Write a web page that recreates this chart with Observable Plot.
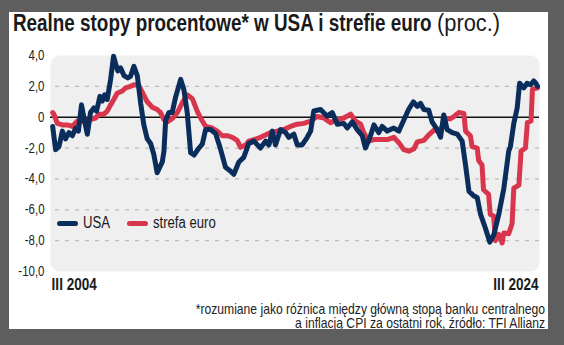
<!DOCTYPE html>
<html><head><meta charset="utf-8">
<script src="https://cdn.jsdelivr.net/npm/d3@7"></script>
<script src="https://cdn.jsdelivr.net/npm/@observablehq/plot@0.6"></script>
<style>
html,body{margin:0;padding:0;}
body{width:564px;height:345px;background:#5e5e5e;position:relative;overflow:hidden;
  font-family:"Liberation Sans",Arial,sans-serif;color:#1a1a1a;}
#card{position:absolute;left:9px;top:12px;width:539px;height:317px;background:#fff;overflow:hidden;}
#title{position:absolute;left:4px;top:0;font-size:23px;line-height:22px;white-space:nowrap;}
#title .main{display:inline-block;font-weight:bold;transform:scaleX(0.82);transform-origin:0 0;}
#title .unit{position:absolute;top:0;font-weight:normal;display:inline-block;transform:scaleX(0.95);transform-origin:0 0;}
#chart{position:absolute;left:0;top:32px;}
.leg{position:absolute;top:201px;font-size:16px;line-height:20px;white-space:nowrap;}
.leg .sw{position:absolute;left:0;top:8px;width:21px;height:5px;border-radius:3px;}
.leg .tx{position:absolute;left:26px;top:0;display:inline-block;transform:scaleX(0.82);transform-origin:0 0;}
#caption{position:absolute;right:3px;top:291px;font-size:14.8px;line-height:13.5px;text-align:right;white-space:nowrap;color:#222;
  transform:scaleX(0.82);transform-origin:100% 0;}
</style></head>
<body>
<div id="card">
  <div id="title"></div>
  <div id="chart"></div>
  <div id="legend"></div>
  <div id="caption"></div>
</div>
<script>
const titleMain = "Realne stopy procentowe* w USA i strefie euro";
const titleUnit = "(proc.)";
const captionLines = ["*rozumiane jako różnica między główną stopą banku centralnego",
                      "a inflacją CPI za ostatni rok, źródło: TFI Allianz"];
const seriesNames = ["USA", "strefa euro"];
const seriesColors = ["#0b2d5b", "#d8364c"];
const yTicks = [4, 2, 0, -2, -4, -6, -8, -10];
const gridValues = [2, -2, -4, -6, -8];
const xLabelText = ["III 2004", "III 2024"];
const xLabelPos = [2004.167, 2024.167];

const usaYears = [2004.17,2004.29,2004.43,2004.57,2004.70,2004.84,2004.98,2005.12,2005.23,2005.36,2005.49,2005.60,2005.73,2005.87,2005.98,
2006.12,2006.22,2006.31,2006.42,2006.56,2006.68,2006.76,2006.86,2006.97,2007.11,2007.27,2007.38,2007.52,2007.66,2007.80,2007.93,
2008.07,2008.21,2008.34,2008.48,2008.69,2008.76,2008.83,2008.96,2009.10,2009.24,2009.45,2009.58,2009.72,2009.86,2010.00,2010.20,
2010.34,2010.48,2010.68,2010.89,2011.09,2011.30,2011.51,2011.64,2011.85,2012.05,2012.26,2012.47,2012.74,2012.95,2013.09,2013.23,
2013.36,2013.57,2013.78,2013.91,2014.12,2014.26,2014.46,2014.67,2014.81,2014.94,2015.22,2015.49,2015.70,2015.91,2016.18,2016.32,
2016.53,2016.73,2016.94,2017.07,2017.28,2017.42,2017.62,2017.76,2017.97,2018.24,2018.45,2018.65,2018.85,2019.05,2019.21,2019.34,
2019.48,2019.68,2019.82,2020.03,2020.17,2020.30,2020.44,2020.65,2020.86,2021.06,2021.20,2021.34,2021.54,2021.68,2021.82,2022.02,
2022.20,2022.37,2022.57,2022.78,2022.98,2023.05,2023.19,2023.33,2023.43,2023.60,2023.74,2023.88,2024.01,2024.10,2024.17];
const usaValues = [-0.6,-2.1,-1.9,-0.9,-1.4,-1.0,-1.2,-0.7,-0.9,0.8,-0.3,-1.1,0.3,0.6,0.4,
1.35,1.05,1.45,1.15,2.45,3.95,3.5,3.0,3.2,2.7,2.55,2.65,3.3,2.7,0.9,-0.5,
-1.4,-1.7,-2.4,-3.6,-2.9,-2.2,-0.2,0.3,0.3,1.3,2.45,1.8,0.3,-2.3,-2.45,-2.0,
-1.75,-0.8,-0.8,-1.05,-2.05,-3.25,-3.5,-3.7,-2.9,-2.6,-1.7,-1.55,-2.0,-1.55,-1.8,-0.9,
-1.8,-0.8,-1.0,-1.3,-1.1,-1.8,-1.8,-1.3,-0.9,0.4,0.5,0.07,0.3,-0.45,-0.4,-0.7,
-0.3,-0.8,-1.2,-2.0,-1.2,-0.5,-1.0,-0.6,-0.9,-0.7,-0.9,-0.2,0.5,1.0,0.7,0.9,
0.5,0.45,-0.3,-0.8,-1.3,0.15,-0.8,-1.0,-1.1,-1.55,-3.1,-4.8,-5.1,-5.2,-6.3,-7.2,
-8.1,-7.6,-6.3,-4.6,-2.2,-1.9,-0.4,0.6,2.2,1.9,2.2,2.1,2.35,2.2,2.0];

const euroYears = [2004.17,2004.22,2004.36,2004.57,2004.77,2004.98,2005.19,2005.46,2005.73,2005.94,2006.08,2006.28,2006.42,2006.56,
2006.69,2006.83,2007.04,2007.18,2007.38,2007.52,2007.73,2007.87,2008.07,2008.28,2008.48,2008.62,2008.76,2008.90,2009.10,2009.31,
2009.52,2009.72,2009.93,2010.13,2010.27,2010.48,2010.75,2010.96,2011.17,2011.37,2011.58,2011.78,2011.92,2012.13,2012.26,2012.47,
2012.74,2013.16,2013.43,2013.70,2013.98,2014.26,2014.53,2014.81,2015.08,2015.36,2015.63,2015.91,2016.18,2016.46,2016.66,2016.87,
2017.00,2017.21,2017.42,2017.69,2017.97,2018.24,2018.45,2018.65,2018.86,2019.07,2019.21,2019.48,2019.68,2019.89,2020.10,2020.24,
2020.44,2020.58,2020.72,2020.92,2021.13,2021.20,2021.40,2021.47,2021.68,2021.74,2021.88,2021.94,2022.15,2022.22,2022.36,2022.43,
2022.57,2022.71,2022.78,2022.98,2023.12,2023.19,2023.40,2023.49,2023.67,2023.75,2023.90,2023.96,2024.17];
const euroValues = [0.3,0.2,-0.4,-0.5,-0.5,-0.6,-0.25,-0.25,-0.15,-0.05,0.2,0.2,0.4,0.8,
1.15,1.55,1.7,1.9,2.0,2.1,2.05,1.6,1.0,0.65,0.5,0.3,-0.15,-0.3,-0.1,0.3,
0.95,1.45,1.2,0.4,-0.05,-0.6,-0.7,-0.9,-1.2,-1.2,-1.3,-1.5,-1.95,-1.8,-1.55,-1.45,
-1.3,-1.0,-0.9,-0.8,-0.6,-0.45,-0.4,-0.25,0.05,-0.05,-0.35,-0.15,-0.05,0.2,-0.25,-0.45,
-1.0,-1.55,-1.45,-1.45,-1.45,-1.3,-1.65,-2.1,-2.2,-2.05,-1.6,-1.5,-1.15,-0.85,-0.9,-0.6,
-0.1,-0.1,0.05,0.3,0.25,-0.9,-1.2,-1.9,-2.0,-2.8,-3.1,-4.7,-5.0,-6.3,-6.4,-8.0,
-7.6,-8.15,-7.5,-7.55,-6.9,-4.6,-4.4,-2.2,-2.0,-0.35,-0.25,1.8,1.9];

const usa = usaYears.map((x, i) => ({x, y: usaValues[i]}));
const euro = euroYears.map((x, i) => ({x, y: euroValues[i]}));

const fmt = d => d === 0 ? "0" : d3.format(".1f")(d).replace(".", ",").replace("\u2212", "-");

// title
const titleEl = document.getElementById("title");
titleEl.innerHTML = `<span class="main">${titleMain}</span><span class="unit">${titleUnit}</span>`;
const mainW = titleEl.querySelector(".main").getBoundingClientRect().width;
titleEl.querySelector(".unit").style.left = (mainW + 5) + "px";

document.getElementById("caption").innerHTML = captionLines.join("<br>");
const legendLeft = [48, 118];
document.getElementById("legend").innerHTML = seriesNames.map((n, i) =>
  `<div class="leg" style="left:${legendLeft[i]}px"><span class="sw" style="background:${seriesColors[i]}"></span><span class="tx">${n}</span></div>`).join("");

const fontFam = '"Liberation Sans",Arial,sans-serif';

const chart = Plot.plot({
  width: 539,
  height: 250,
  marginLeft: 41,
  marginRight: 9,
  marginTop: 11,
  marginBottom: 23,
  style: {fontFamily: fontFam, background: "transparent", overflow: "visible"},
  x: {domain: [2004.08, 2024.25], axis: null},
  y: {domain: [-10, 4], axis: null},
  marks: [
    Plot.frame({fill: "#efefef", stroke: null, rx: 9}),
    Plot.ruleY(gridValues, {stroke: "#bcbcbc", strokeWidth: 1.2, strokeDasharray: "4,6", strokeDashoffset: -5}),
    Plot.ruleY([0], {stroke: "#111", strokeWidth: 1.6}),
    Plot.axisY(yTicks, {tickSize: 0, tickPadding: 6, tickFormat: fmt, fontSize: 14, fill: "#222", label: null}),
    Plot.line(euro, {x: "x", y: "y", stroke: seriesColors[1], strokeWidth: 5, strokeLinejoin: "round", strokeLinecap: "round"}),
    Plot.line(usa, {x: "x", y: "y", stroke: seriesColors[0], strokeWidth: 5, strokeLinejoin: "round", strokeLinecap: "round"}),
    Plot.text([xLabelText[0]], {x: xLabelPos[0], text: d => d, textAnchor: "start", frameAnchor: "bottom", lineAnchor: "top", dy: 7, dx: -1,
      fontSize: 16.5, fontWeight: "bold", fill: "#1a1a1a"}),
    Plot.text([xLabelText[1]], {x: xLabelPos[1], text: d => d, textAnchor: "end", frameAnchor: "bottom", lineAnchor: "top", dy: 7, dx: 1,
      fontSize: 16.5, fontWeight: "bold", fill: "#1a1a1a"})
  ]
});
document.getElementById("chart").appendChild(chart);
// condense the svg texts (narrow typeface look)
chart.querySelectorAll("text").forEach(t => {
  const w = t.getComputedTextLength();
  if (w > 0) {
    t.setAttribute("textLength", (w * 0.82).toFixed(2));
    t.setAttribute("lengthAdjust", "spacingAndGlyphs");
  }
});
</script>
</body></html>
